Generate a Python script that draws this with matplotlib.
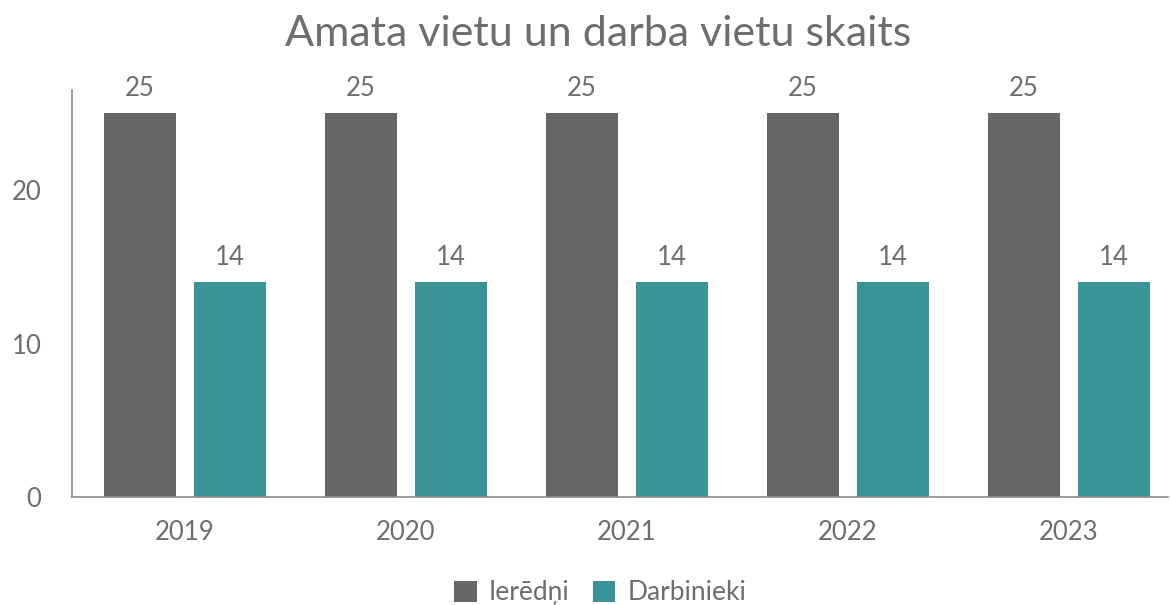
import matplotlib.pyplot as plt
import numpy as np

plt.rcParams['font.family'] = ['Lato', 'DejaVu Sans']

gadi = ['2019', '2020', '2021', '2022', '2023']
ieredni = [25, 25, 25, 25, 25]
darbinieki = [14, 14, 14, 14, 14]

teksts = '#6e6e6e'
pelēks = '#676566'
zils = '#3a9396'

fig = plt.figure(figsize=(11.7, 6.05), dpi=100)
ax = fig.add_axes([0.0615, 0.178, 0.937, 0.673])

x = np.arange(len(gadi))
w = 0.326
b1 = ax.bar(x - 0.204, ieredni, w, color=pelēks, label='Ierēdņi')
b2 = ax.bar(x + 0.204, darbinieki, w, color=zils, label='Darbinieki')

for bars in (b1, b2):
    ax.bar_label(bars, padding=9, fontsize=18.5, color=teksts)

ax.set_xlim(-0.51, 4.45)
ax.set_ylim(0, 26.5)
ax.set_yticks([0, 10, 20])
ax.set_xticks(x)
ax.set_xticklabels(gadi)
ax.tick_params(length=0, labelsize=18.5, labelcolor=teksts)
ax.tick_params(axis='y', pad=22)
ax.tick_params(axis='x', pad=16)

for s in ['top', 'right']:
    ax.spines[s].set_visible(False)
for s in ['left', 'bottom']:
    ax.spines[s].set_color('#8c8c8c')
    ax.spines[s].set_linewidth(1.2)

fig.suptitle('Amata vietu un darba vietu skaits', x=0.511, y=0.975, fontsize=31, color=teksts)

fig.legend(handles=[b1, b2], loc='center', bbox_to_anchor=(0.513, 0.02), ncol=2,
           frameon=False, fontsize=19, labelcolor=teksts, handlelength=0.85,
           handleheight=0.85, handletextpad=0.45, columnspacing=0.9)

fig.savefig('out.png', dpi=100)
